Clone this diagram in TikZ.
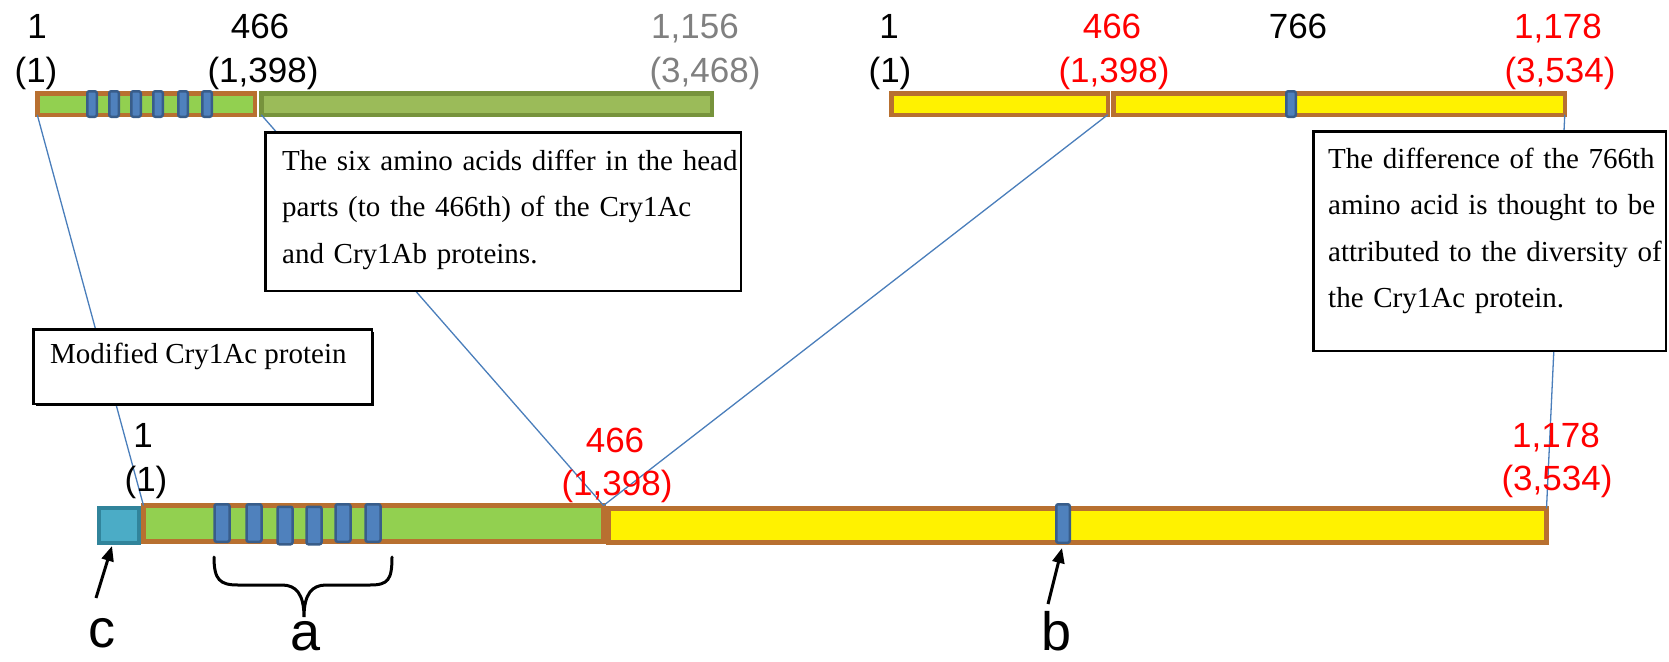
\documentclass[tikz,border=0pt]{standalone}
\usepackage{fontspec}
\setmainfont{Liberation Serif}
\newfontfamily\numf{Liberation Sans}
\usetikzlibrary{arrows.meta,shadows}
\definecolor{barorange}{RGB}{184,112,48}
\definecolor{lightgreen}{HTML}{92D050}
\definecolor{olivefill}{HTML}{9BBB59}
\definecolor{olivedraw}{HTML}{77933C}
\definecolor{markfill}{HTML}{4F81BD}
\definecolor{markdraw}{HTML}{385D8A}
\definecolor{cyanfill}{HTML}{4BACC6}
\definecolor{cyandraw}{HTML}{31849B}
\definecolor{linkblue}{HTML}{4A7EBB}
\definecolor{graytext}{HTML}{808080}
\definecolor{redtext}{RGB}{255,0,0}
\begin{document}
\begin{tikzpicture}[x=1pt,y=-1pt,
  seg/.style={rectangle, inner sep=0pt, outer sep=0pt},
  tbar/.style={seg, draw=barorange, line width=4.5pt},
  bbar/.style={seg, draw=barorange, line width=5pt},
  tmark/.style={seg, rounded corners=2pt, fill=markfill, draw=markdraw, line width=2.5pt, minimum width=9.5pt, minimum height=25.5pt},
  bmark/.style={seg, rounded corners=2pt, fill=markfill, draw=markdraw, line width=2.5pt, minimum width=15pt, minimum height=37.5pt},
  link/.style={draw=linkblue, line width=1.3pt},
  tbox/.style={seg, draw=black, fill=white, line width=2.5pt},
  boxtext/.style={inner sep=0pt, font=\fontsize{29}{46.5}\selectfont},
  lbl/.style={inner sep=0pt, anchor=base, font=\numf\fontsize{35}{40}\selectfont},
  letter/.style={inner sep=0pt, anchor=base, font=\numf\fontsize{54}{58}\selectfont},
  ptr/.style={draw=black, line width=3pt, -{Triangle[length=15pt,width=12pt]}}
]
\useasboundingbox (0,0) rectangle (1669,661);

% ---- top left bar ----
\node[tbar, fill=lightgreen, minimum width=217.5pt, minimum height=21.5pt] (tlA) at (146,104) {};
\node[seg, draw=olivedraw, line width=4.5pt, fill=olivefill, minimum width=450.5pt, minimum height=21.5pt] (tlB) at (486.5,104) {};
\foreach \x [count=\i] in {92,114,136,158,183,207}
  \node[tmark] (tm\i) at (\x,104) {};

% ---- top right bar ----
\node[tbar, fill=yellow, minimum width=216.5pt, minimum height=21.5pt] (trA) at (999.5,104) {};
\node[tbar, fill=yellow, minimum width=451.5pt, minimum height=21.5pt] (trB) at (1339,104) {};
\node[tmark] (tmr) at (1291,104) {};

% ---- bottom bar ----
\node[seg, draw=cyandraw, fill=cyanfill, line width=4pt, minimum width=40pt, minimum height=35pt] (cy) at (119,525.5) {};
\node[bbar, fill=lightgreen, minimum width=460pt, minimum height=36pt] (bg) at (373.5,523.5) {};
\node[bbar, fill=yellow, minimum width=938pt, minimum height=34pt] (by) at (1077.5,525.5) {};
\node[bmark] (bm1) at (222,523) {};
\node[bmark] (bm2) at (254,523) {};
\node[bmark] (bm3) at (285,525.5) {};
\node[bmark] (bm4) at (314,525.5) {};
\node[bmark] (bm5) at (343,523) {};
\node[bmark] (bm6) at (373,523) {};
\node[bmark, minimum width=13.5pt, minimum height=38.5pt] (bmb) at (1063,523.5) {};

% ---- connectors ----
\draw[link] (tlA.south west) -- (bg.north west);
\draw[link] (tlB.south west) -- (bg.north east);
\draw[link] (trA.south east) -- (bg.north east);
\draw[link] (trB.south east) -- (by.north east);

% ---- text boxes ----
\node[tbox, minimum width=475.5pt, minimum height=158.5pt] (box1) at (503,211.5) {};
\node[boxtext, text width=443pt, anchor=north west] (txt1) at (282,149)
  {\noindent\rule{0pt}{21pt}\makebox[443pt][s]{The six amino acids differ in the head}\\\makebox[443pt][s]{parts (to the 466th) of the Cry1Ac}\\and Cry1Ab proteins.};

\node[tbox, minimum width=352.5pt, minimum height=219.5pt] (box2) at (1489.5,241) {};
\node[boxtext, text width=328pt, anchor=north west] (txt2) at (1328,147)
  {\noindent\rule{0pt}{21pt}\makebox[328pt][s]{The difference of the 766th}\\\makebox[328pt][s]{amino acid is thought to be}\\\makebox[328pt][s]{attributed to the diversity of}\\the Cry1Ac protein.};

\node[tbox, minimum width=338.5pt, minimum height=74.5pt,
  drop shadow={shadow xshift=2.5pt, shadow yshift=-2.5pt, fill=black, opacity=1}] (box3) at (202.5,366.5) {};
\node[boxtext, anchor=base west] (txt3) at (50,363) {Modified Cry1Ac protein};

% ---- number labels: top left ----
\node[lbl] (l1a) at (37,38) {1};
\node[lbl] (l1b) at (36,82) {(1)};
\node[lbl] (l2a) at (260,38) {466};
\node[lbl] (l2b) at (263,82) {(1,398)};
\node[lbl, text=graytext] (l3a) at (695,38) {1,156};
\node[lbl, text=graytext] (l3b) at (705,82) {(3,468)};

% ---- number labels: top right ----
\node[lbl] (r1a) at (889,38) {1};
\node[lbl] (r1b) at (890,82) {(1)};
\node[lbl, text=redtext] (r2a) at (1112,38) {466};
\node[lbl, text=redtext] (r2b) at (1114,82) {(1,398)};
\node[lbl] (r3a) at (1298,38) {766};
\node[lbl, text=redtext] (r4a) at (1558,38) {1,178};
\node[lbl, text=redtext] (r4b) at (1560,82) {(3,534)};

% ---- number labels: bottom ----
\node[lbl] (b1a) at (143,447) {1};
\node[lbl] (b1b) at (146,491.5) {(1)};
\node[lbl, text=redtext] (b2a) at (615,452) {466};
\node[lbl, text=redtext] (b2b) at (617,495.5) {(1,398)};
\node[lbl, text=redtext] (b3a) at (1556,447) {1,178};
\node[lbl, text=redtext] (b3b) at (1557,490.5) {(3,534)};

% ---- letters, arrows, brace ----
\node[letter] (lc) at (102,647) {c};
\node[letter] (la) at (306,650) {a};
\node[letter] (lb) at (1057,650) {b};

\coordinate (cTail) at (96,598);
\coordinate (cHead) at (112,546);
\draw[ptr] (cTail) -- (cHead);
\coordinate (bTail) at (1048,604);
\coordinate (bHead) at (1062,548);
\draw[ptr] (bTail) -- (bHead);

\draw[black, line width=3pt, line cap=round]
  (214,557) .. controls (214,580) and (220,585) .. (238,585) -- (282,585)
  .. controls (296,585) and (304,594) .. (304,617)
  .. controls (304,594) and (312,585) .. (326,585) -- (370,585)
  .. controls (388,585) and (392,580) .. (392,557);
\end{tikzpicture}
\end{document}
